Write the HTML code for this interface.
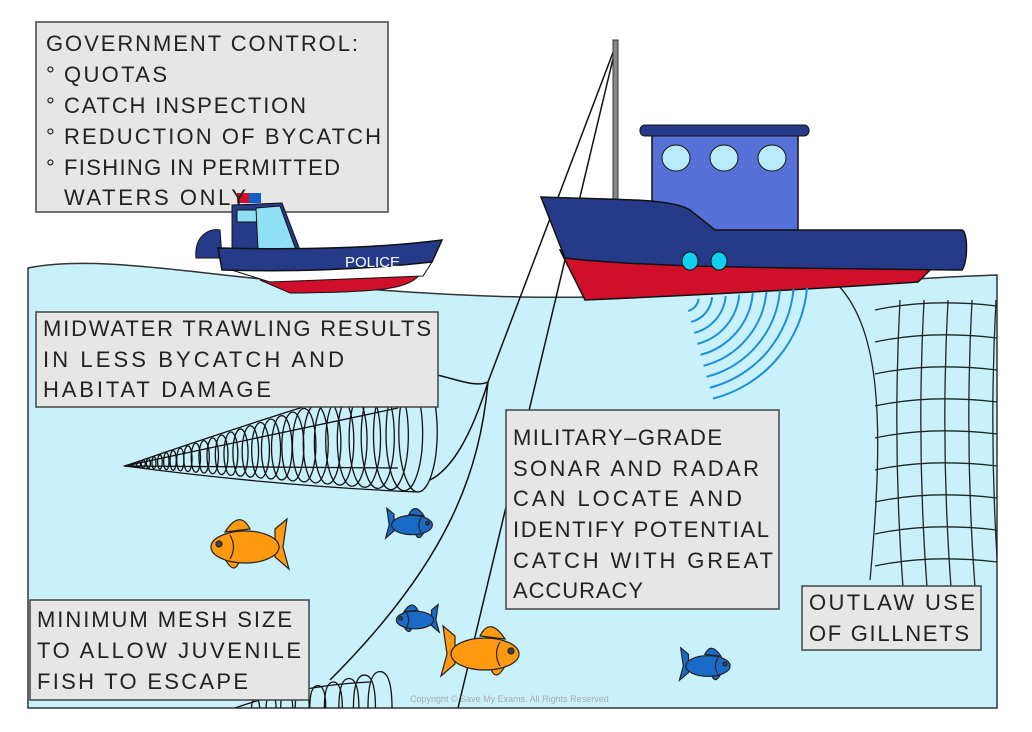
<!DOCTYPE html>
<html><head><meta charset="utf-8"><style>
html,body{margin:0;padding:0;background:#fff;width:1032px;height:732px;overflow:hidden;}
svg{display:block}
text{font-family:"Liberation Sans","DejaVu Sans",sans-serif;font-size:22px;fill:#222;}
</style></head><body>
<svg id="s" width="1032" height="732" viewBox="0 0 1032 732" xmlns="http://www.w3.org/2000/svg">
<defs><clipPath id="w"><path d="M28,268 C120,250 250,290 520,297 C700,300 850,280 997,275 L997,708 L28,708 Z"/></clipPath></defs>
<path d="M28,268 C120,250 250,290 520,297 C700,300 850,280 997,275 L997,708 L28,708 Z" fill="#c9f1fc" stroke="#333" stroke-width="1.5"/>
<g id="net" clip-path="url(#w)" fill="none" stroke="#111" stroke-width="1.3"></g>
<g clip-path="url(#w)" fill="none" stroke="#222" stroke-width="1.3">
<path d="M838,285 C880,330 885,420 870,580" />
<g id="grid"></g>
</g>
<g fill="none" stroke="#111" stroke-width="1.5">
<path d="M617,42 L488,382"/>
<path d="M617,42 L458,708"/>
<path d="M488,382 C480,470 450,560 330,680"/>
<path d="M488,382 C470,390 440,370 410,372"/>
<path d="M488,382 C470,440 450,470 430,480"/>
</g>
<rect x="613" y="40" width="5" height="160" fill="#888" stroke="#333"/>
<rect x="652" y="133" width="146" height="110" fill="#5570d6" stroke="#111" stroke-width="1.5"/>
<rect x="640" y="125" width="169" height="11" rx="5" fill="#263a8a" stroke="#111"/>
<ellipse cx="676" cy="158" rx="14" ry="13" fill="#b8ecf9" stroke="#111"/>
<ellipse cx="724" cy="158" rx="14" ry="13" fill="#b8ecf9" stroke="#111"/>
<ellipse cx="772" cy="158" rx="14" ry="13" fill="#b8ecf9" stroke="#111"/>
<path d="M560,250 L935,265 L918,282 C800,290 700,295 585,300 Z" fill="#d0102a" stroke="#111" stroke-width="1.5"/>
<path d="M541,197 C620,200 670,198 690,210 L715,230 L962,230 C968,232 968,262 962,270 C800,268 650,268 565,258 Z" fill="#263a8a" stroke="#111" stroke-width="1.5"/>
<ellipse cx="690" cy="261" rx="8" ry="9" fill="#10d0f0" stroke="#111"/>
<ellipse cx="719" cy="261" rx="8" ry="9" fill="#10d0f0" stroke="#111"/>
<g id="sonar" fill="none" stroke="#1a8fe0" stroke-width="2"></g>
<g id="fish"></g>
<g fill="#e6e6e6" stroke="#444" stroke-width="1.5">
<rect x="36" y="22" width="352" height="190"/>
<rect x="36" y="312" width="402" height="95"/>
<rect x="506" y="410" width="273" height="199"/>
<rect x="30" y="600" width="279" height="100"/>
<rect x="802" y="586" width="179" height="64"/>
</g>
<path d="M196,258 C194,235 210,228 220,230 L222,258 Z" fill="#263a8a" stroke="#111"/>
<path d="M232,205 L282,203 L300,250 L232,252 Z" fill="#263a8a" stroke="#111"/>
<rect x="237" y="210" width="20" height="12" fill="#8fe0f5" stroke="#111"/>
<path d="M256,208 L280,206 L296,250 L258,250 Z" fill="#8fe0f5" stroke="#111"/>
<rect x="237" y="193" width="12" height="10" fill="#d0102a"/><rect x="249" y="193" width="12" height="10" fill="#1560c8"/>
<path d="M260,280 L422,272 C410,290 380,292 290,293 Z" fill="#d0102a" stroke="#111"/>
<path d="M225,268 L432,262 L423,276 L270,282 Z" fill="#fff" stroke="#111"/>
<path d="M218,248 C300,250 380,248 442,240 L432,262 C360,270 290,272 222,270 Z" fill="#263a8a" stroke="#111" stroke-width="1.5"/>
<text x="345" y="267" style="font-size:15px;fill:#fff">POLICE</text>
<text x="46" y="51" textLength="312">GOVERNMENT CONTROL:</text>
<text x="46" y="82">°</text><text x="64" y="82" textLength="103">QUOTAS</text>
<text x="46" y="113">°</text><text x="64" y="113" textLength="242">CATCH INSPECTION</text>
<text x="46" y="144">°</text><text x="64" y="144" textLength="317">REDUCTION OF BYCATCH</text>
<text x="46" y="175">°</text><text x="64" y="175" textLength="276">FISHING IN PERMITTED</text>
<text x="64" y="205" textLength="182">WATERS ONLY</text>
<text x="43" y="336" textLength="388">MIDWATER TRAWLING RESULTS</text>
<text x="43" y="367" textLength="301">IN LESS BYCATCH AND</text>
<text x="43" y="397" textLength="228">HABITAT DAMAGE</text>
<text x="513" y="445" textLength="209">MILITARY–GRADE</text>
<text x="513" y="476" textLength="246">SONAR AND RADAR</text>
<text x="513" y="506" textLength="229">CAN LOCATE AND</text>
<text x="513" y="537" textLength="256">IDENTIFY POTENTIAL</text>
<text x="513" y="568" textLength="260">CATCH WITH GREAT</text>
<text x="513" y="598" textLength="130">ACCURACY</text>
<text x="37" y="627" textLength="255">MINIMUM MESH SIZE</text>
<text x="37" y="658" textLength="264">TO ALLOW JUVENILE</text>
<text x="37" y="689" textLength="211">FISH TO ESCAPE</text>
<text x="809" y="610" textLength="166">OUTLAW USE</text>
<text x="809" y="641" textLength="160">OF GILLNETS</text>
<text x="410" y="702" style="font-size:9px;fill:#aaa">Copyright © Save My Exams. All Rights Reserved</text>
</svg>
<script>
var ns="http://www.w3.org/2000/svg";
function el(p,t,a){var e=document.createElementNS(ns,t);for(var k in a)e.setAttribute(k,a[k]);p.appendChild(e);return e;}
var net=document.getElementById("net");
function trawl(x0,y0,x1,cy,R,n){
 el(net,"path",{d:"M"+x0+","+y0+" Q"+(x0+150)+","+(cy-R*0.3)+" "+x1+","+(cy-R)});
 el(net,"path",{d:"M"+x0+","+y0+" Q"+(x0+150)+","+(cy+R*0.9)+" "+x1+","+(cy+R)});
 el(net,"path",{d:"M"+x0+","+y0+" L"+(x1-20)+","+(cy-R*0.4)});
 el(net,"path",{d:"M"+x0+","+y0+" L"+(x1-20)+","+(cy+R*0.6)});
 for(var i=1;i<=n;i++){var t=Math.pow(i/n,1.6);var x=x0+(x1-x0)*t;var r=R*t;var yy=y0+(cy-y0)*t;
  el(net,"ellipse",{cx:x,cy:yy,rx:Math.max(2,r*0.32),ry:r});}
}
trawl(125,466,418,432,60,34);
/* second trawl: upper arcs only, kept inside frame */
el(net,"path",{d:"M235,708 Q300,685 370,682"});
for(var i=1;i<=9;i++){var t=i/9;var x=240+140*t;var h=4+24*t;var rx=3+9*t;
 el(net,"path",{d:"M"+(x-rx)+",708 Q"+(x-rx)+","+(708-h*1.3)+" "+x+","+(708-h*1.3)+" Q"+(x+rx)+","+(708-h*1.3)+" "+(x+rx)+",708"});}
var g=document.getElementById("grid");
for(var i=0;i<9;i++){var y=310+i*32;el(g,"path",{d:"M875,"+y+" Q930,"+(y-12)+" 997,"+(y-4)});}
for(var i=0;i<5;i++){var x=900+i*24;el(g,"path",{d:"M"+x+",300 Q"+(x-8)+",450 "+(x+4)+",600"});}
var so=document.getElementById("sonar");
for(var i=0;i<9;i++){var r=14+i*14;var cx=685,cy=300;
 var a1=-0.25,a2=0.9;el(so,"path",{d:"M"+(cx+r*Math.cos(a1))+","+(cy+r*Math.sin(a1)+r*0.15)+" A"+r+","+r+" 0 0 1 "+(cx+r*Math.cos(a2)-r*0.4)+","+(cy+r*Math.sin(a2))});}
var f=document.getElementById("fish");
function fish(x,y,s,col,flip){var gg=el(f,"g",{transform:"translate("+x+","+y+") scale("+(flip?-s:s)+","+s+")",stroke:"#222","stroke-width":1/s*1.2,fill:col});
 el(gg,"path",{d:"M-30,-18 L-42,-28 L-38,0 L-44,22 L-30,10 Z"});
 el(gg,"path",{d:"M-5,-18 Q5,-38 20,-15 Z"});
 el(gg,"path",{d:"M5,12 Q10,30 20,12 Z"});
 el(gg,"ellipse",{cx:0,cy:0,rx:34,ry:16});
 el(gg,"circle",{cx:26,cy:-3,r:3,fill:"#444"});
 el(gg,"path",{d:"M15,-12 Q8,0 15,12",fill:"none"});}
fish(245,547,1,"#ff9a10",true);
fish(412,525,0.6,"#1a6ac8",false);
fish(415,620,0.55,"#1a6ac8",true);
fish(485,654,1,"#ff9a10",false);
fish(708,666,0.65,"#1a6ac8",false);
</script>
</body></html>
